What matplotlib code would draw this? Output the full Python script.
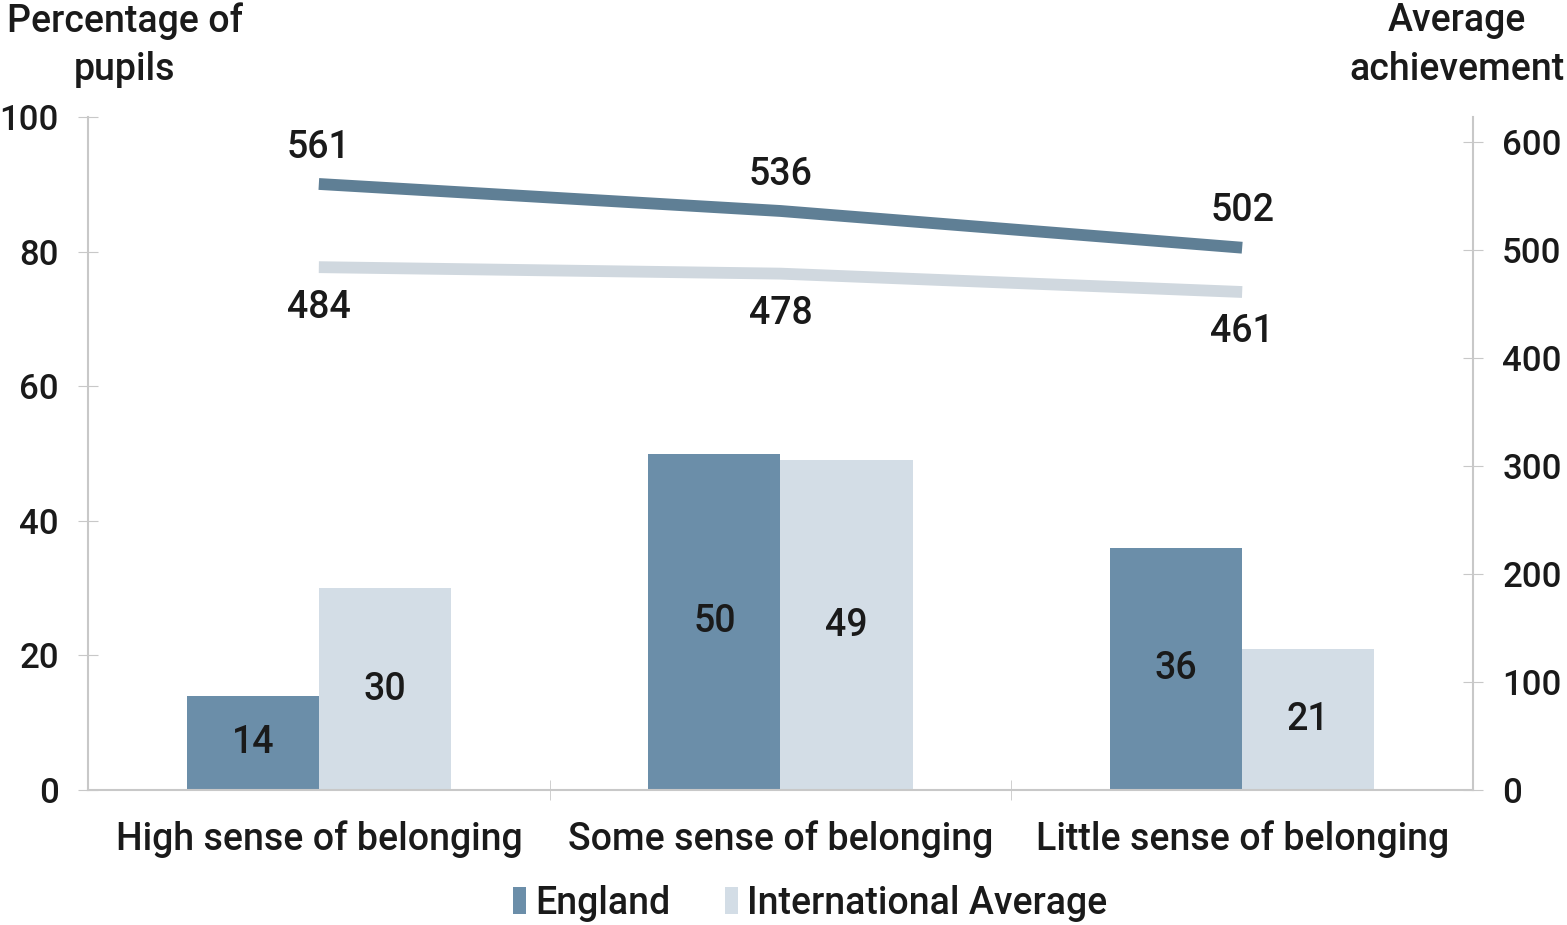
import matplotlib
matplotlib.use("Agg")
import matplotlib.pyplot as plt
import numpy as np

categories = ["High sense of belonging", "Some sense of belonging", "Little sense of belonging"]
england_pct = [14, 50, 36]
intl_pct = [30, 49, 21]
england_score = [561, 536, 502]
intl_score = [484, 478, 461]
left_ticks = [0, 20, 40, 60, 80, 100]
right_ticks = [0, 100, 200, 300, 400, 500, 600]

plt.rcParams["font.family"] = ["Roboto", "Liberation Sans", "DejaVu Sans"]
plt.rcParams["font.weight"] = "medium"

c_eng_bar = "#6b8ea9"
c_int_bar = "#d3dde6"
c_eng_line = "#5f7f95"
c_int_line = "#d0d8df"
c_axis = "#c8c8c8"
c_text = "#1a1a1a"
fs = 27
fs_tick = 25

fig = plt.figure(figsize=(15.67, 9.25), dpi=100)
ax = fig.add_axes([88 / 1567, 135 / 925, 1385 / 1567, 673 / 925])
ax2 = ax.twinx()

x = np.arange(len(categories))
w = 0.286
b1 = ax.bar(x - w / 2, england_pct, w, color=c_eng_bar, label="England")
b2 = ax.bar(x + w / 2, intl_pct, w, color=c_int_bar, label="International Average")
for bars, vals in ((b1, england_pct), (b2, intl_pct)):
    for r, v in zip(bars, vals):
        ax.text(r.get_x() + r.get_width() / 2, v / 2, str(v), ha="center", va="center",
                fontsize=fs, color=c_text)

ax.set_xlim(-0.5, len(categories) - 0.5)
ax.set_ylim(0, 100)
ax.set_yticks(left_ticks)
ax.set_xticks(x)
ax.set_xticklabels(categories, fontsize=fs, color=c_text)
ax.set_xticks([0.5, 1.5], minor=True)
ax.tick_params(axis="x", which="major", length=0, pad=22)
ax.tick_params(axis="x", which="minor", direction="inout", length=14, color=c_axis)
ax.tick_params(axis="y", labelsize=fs_tick, direction="inout", length=14, color=c_axis,
               pad=14, labelcolor=c_text)

ax2.plot(x, england_score, color=c_eng_line, lw=8.5, solid_capstyle="butt", zorder=3)
ax2.plot(x, intl_score, color=c_int_line, lw=8.5, solid_capstyle="butt", zorder=3)
ax2.set_ylim(0, 623)
ax2.set_yticks(right_ticks)
ax2.tick_params(axis="y", labelsize=fs_tick, direction="inout", length=14, color=c_axis,
                pad=14, labelcolor=c_text)
for xi, v in zip(x, england_score):
    ax2.text(xi, v + 34, str(v), ha="center", va="center", fontsize=fs, color=c_text)
for xi, v in zip(x, intl_score):
    ax2.text(xi, v - 37, str(v), ha="center", va="center", fontsize=fs, color=c_text)

for a in (ax, ax2):
    a.spines["top"].set_visible(False)
    for s in ("left", "right", "bottom"):
        a.spines[s].set_color(c_axis)
        a.spines[s].set_linewidth(1.5)
ax.spines["right"].set_visible(False)
ax2.spines["left"].set_visible(False)
ax2.spines["bottom"].set_visible(False)

fig.text(125 / 1567, 1 - 45 / 925, "Percentage of\npupils", ha="center", va="center",
         fontsize=fs, linespacing=1.38, color=c_text)
fig.text(1457 / 1567, 1 - 45 / 925, "Average\nachievement", ha="center", va="center",
         fontsize=fs, linespacing=1.38, color=c_text)

fig.legend(handles=[b1, b2], labels=["England", "International Average"],
           loc="center", bbox_to_anchor=(810 / 1567, 1 - 903 / 925), ncol=2, frameon=False,
           fontsize=fs, handlelength=0.35, handleheight=0.7, handletextpad=0.25,
           columnspacing=1.45, labelcolor=c_text)

fig.savefig("out.png", dpi=100, facecolor="white")
